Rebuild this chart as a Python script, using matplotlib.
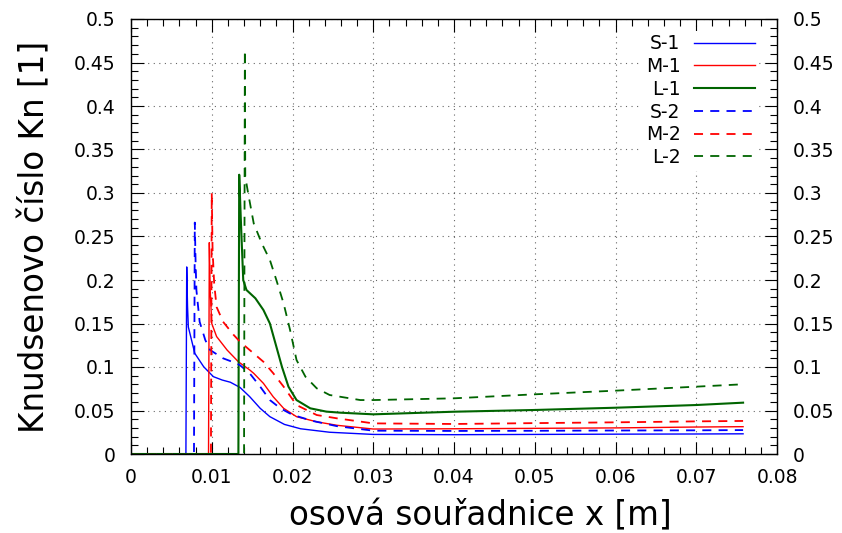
import numpy as np
import matplotlib
matplotlib.use("Agg")
import matplotlib.pyplot as plt
from matplotlib.ticker import MultipleLocator

# S-1 (modra plna)
s1_x = [0, 0.0068, 0.0069, 0.0070, 0.0071, 0.0079, 0.0090, 0.0102, 0.0113, 0.0123, 0.0135,
        0.0147, 0.0160, 0.0172, 0.0190, 0.0210, 0.0246, 0.030, 0.040, 0.050, 0.060, 0.070, 0.0758]
s1_y = [0, 0, 0.215, 0.17, 0.146, 0.1157, 0.1003, 0.0889, 0.085, 0.0825, 0.0765,
        0.0659, 0.0525, 0.0429, 0.034, 0.029, 0.025, 0.0225, 0.0222, 0.0225, 0.0228, 0.023, 0.0232]

# M-1 (cervena plna)
m1_x = [0, 0.0096, 0.0097, 0.0098, 0.0100, 0.0106, 0.0119, 0.0133, 0.0147, 0.0152, 0.0164,
        0.0176, 0.0189, 0.0205, 0.0230, 0.0255, 0.030, 0.040, 0.050, 0.060, 0.070, 0.0758]
m1_y = [0, 0, 0.243, 0.19, 0.150, 0.135, 0.1195, 0.106, 0.0966, 0.0927, 0.0812,
        0.0659, 0.0525, 0.0429, 0.037, 0.033, 0.0287, 0.029, 0.0295, 0.030, 0.031, 0.0314]

# L-1 (zelena plna)
l1_x = [0, 0.0133, 0.0134, 0.0136, 0.0137, 0.0139, 0.0143, 0.0154, 0.0164, 0.0172, 0.0180,
        0.0187, 0.0195, 0.0205, 0.0222, 0.0242, 0.0259, 0.030, 0.040, 0.050, 0.060, 0.070, 0.0758]
l1_y = [0, 0, 0.321, 0.27, 0.246, 0.200, 0.1885, 0.179, 0.1655, 0.150, 0.1234,
        0.100, 0.0774, 0.062, 0.0525, 0.0487, 0.0475, 0.0456, 0.0486, 0.0506, 0.0532, 0.0563, 0.059]

# S-2 (modra carkovana)
s2_x = [0, 0.0078, 0.0079, 0.0080, 0.0081, 0.0085, 0.0092, 0.0098, 0.0114, 0.0131, 0.0135,
        0.0147, 0.0160, 0.0172, 0.0185, 0.0200, 0.0225, 0.0255, 0.030, 0.040, 0.050, 0.060,
        0.070, 0.0758]
s2_y = [0, 0, 0.266, 0.22, 0.1885, 0.152, 0.131, 0.1195, 0.110, 0.104, 0.102,
        0.0927, 0.0774, 0.062, 0.0525, 0.045, 0.038, 0.032, 0.0268, 0.0265, 0.0267, 0.027,
        0.0272, 0.0275]

# M-2 (cervena carkovana)
m2_x = [0, 0.0099, 0.0100, 0.0101, 0.0103, 0.0106, 0.0114, 0.0127, 0.0135, 0.0147, 0.0164,
        0.0176, 0.0189, 0.0205, 0.0230, 0.0255, 0.030, 0.040, 0.050, 0.060, 0.070, 0.0758]
m2_y = [0, 0, 0.300, 0.235, 0.196, 0.169, 0.152, 0.137, 0.129, 0.1195, 0.106,
        0.093, 0.0774, 0.0563, 0.0448, 0.041, 0.0352, 0.0345, 0.0355, 0.0364, 0.0375, 0.038]

# L-2 (zelena carkovana)
l2_x = [0, 0.0140, 0.0141, 0.01415, 0.0145, 0.0152, 0.0162, 0.0172, 0.0180, 0.0189, 0.0197,
        0.0205, 0.0216, 0.0230, 0.0246, 0.0284, 0.030, 0.040, 0.050, 0.060, 0.070, 0.0755]
l2_y = [0, 0, 0.464, 0.319, 0.300, 0.265, 0.242, 0.223, 0.200, 0.173, 0.1425,
        0.108, 0.0889, 0.0755, 0.0678, 0.062, 0.062, 0.064, 0.0686, 0.0728, 0.0774, 0.080]

labels = ["S-1", "M-1", "L-1", "S-2", "M-2", "L-2"]


def main():
    fig = plt.figure(figsize=(8.42, 5.33), dpi=100)
    ax = fig.add_axes([131 / 842, 1 - 454 / 533, (777 - 131) / 842, (454 - 19) / 533])

    blue, red, green = "#0000ff", "#ff0000", "#006400"
    dash = (5, 4)
    ax.plot(s1_x, s1_y, color=blue, lw=1.0, label=labels[0])
    ax.plot(m1_x, m1_y, color=red, lw=1.0, label=labels[1])
    ax.plot(l1_x, l1_y, color=green, lw=1.5, label=labels[2])
    ax.plot(s2_x, s2_y, color=blue, lw=1.3, dashes=dash, label=labels[3])
    ax.plot(m2_x, m2_y, color=red, lw=1.3, dashes=dash, label=labels[4])
    ax.plot(l2_x, l2_y, color=green, lw=1.3, dashes=dash, label=labels[5])

    ax.set_xlim(0, 0.08)
    ax.set_ylim(0, 0.5)
    ax.xaxis.set_major_locator(MultipleLocator(0.01))
    ax.xaxis.set_minor_locator(MultipleLocator(0.002))
    ax.yaxis.set_major_locator(MultipleLocator(0.05))
    ax.yaxis.set_minor_locator(MultipleLocator(0.01))
    ax.xaxis.set_major_formatter(plt.FuncFormatter(lambda v, p: "%g" % round(v, 4)))
    ax.yaxis.set_major_formatter(plt.FuncFormatter(lambda v, p: "%g" % round(v, 4)))

    ax.tick_params(which="both", direction="in", top=True, right=True, labelright=True,
                   labelsize=13.5)
    ax.tick_params(axis="x", pad=10)
    ax.tick_params(axis="y", pad=11)
    ax.tick_params(which="major", length=9, width=0.8)
    ax.tick_params(which="minor", length=5, width=0.8)
    ax.grid(which="major", color="black", alpha=0.6, lw=0.8, linestyle=(0, (1, 4)))
    for s in ax.spines.values():
        s.set_linewidth(1.0)

    ax.set_xlabel("osová souřadnice x [m]", fontsize=23.5)
    ax.set_ylabel("Knudsenovo číslo Kn [1]", fontsize=23.5)
    ax.xaxis.set_label_coords(0.540, -0.104)
    ax.yaxis.set_label_coords(-0.123, 0.5)

    ax.legend(loc="upper right", bbox_to_anchor=(0.987, 0.995), markerfirst=False,
              fontsize=13.5, handlelength=3.3, labelspacing=0.2, handletextpad=0.7,
              frameon=True, fancybox=False, edgecolor="none", facecolor="white",
              framealpha=1.0, borderpad=0.2)

    fig.savefig("out.png", dpi=100)


if __name__ == "__main__":
    main()
